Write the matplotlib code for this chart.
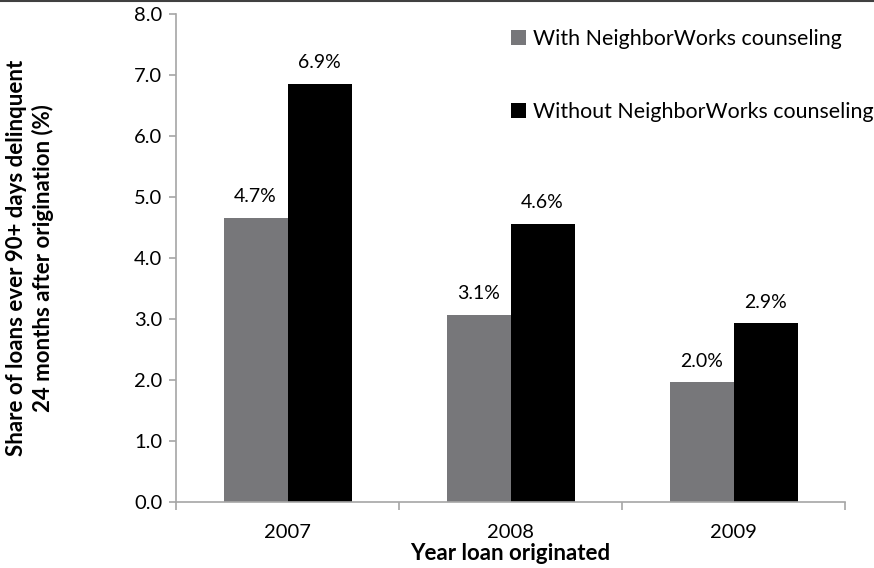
import matplotlib.pyplot as plt
import numpy as np

# data
years = ['2007', '2008', '2009']
with_counseling = [4.66, 3.07, 1.96]
without_counseling = [6.86, 4.56, 2.93]
with_labels = ['4.7%', '3.1%', '2.0%']
without_labels = ['6.9%', '4.6%', '2.9%']
y_ticks = [0, 1, 2, 3, 4, 5, 6, 7, 8]

plt.rcParams['font.family'] = ['Lato', 'DejaVu Sans']

fig = plt.figure(figsize=(8.74, 5.68), dpi=100)
ax = fig.add_axes([0.2014, 0.1162, 0.967 - 0.2014, 0.9754 - 0.1162])

x = np.arange(len(years))
w = 0.287
grey = '#77777a'
axis_col = '#a6a6a6'

ax.bar(x - w / 2, with_counseling, w, color=grey, label='With NeighborWorks counseling')
ax.bar(x + w / 2, without_counseling, w, color='black', label='Without NeighborWorks counseling')

for xi, v, s in zip(x - w / 2, with_counseling, with_labels):
    ax.annotate(s, (xi, v), xytext=(0, 9), textcoords='offset points',
                ha='center', va='bottom', fontsize=14)
for xi, v, s in zip(x + w / 2, without_counseling, without_labels):
    ax.annotate(s, (xi, v), xytext=(0, 9), textcoords='offset points',
                ha='center', va='bottom', fontsize=14)

ax.set_xlim(-0.5, 2.5)
ax.set_ylim(0, 8)
ax.set_yticks(y_ticks)
ax.set_yticklabels(['%.1f' % t for t in y_ticks])
ax.set_xticks(x)
ax.set_xticklabels(years)
ax.set_xticks([-0.5, 0.5, 1.5, 2.5], minor=True)
ax.tick_params(axis='x', which='major', length=0, pad=16, labelsize=14.5)
ax.tick_params(axis='x', which='minor', length=6, color=axis_col, width=1.2)
ax.tick_params(axis='y', length=5, color=axis_col, width=1.2, labelsize=14.5, pad=5)

for s in ['top', 'right']:
    ax.spines[s].set_visible(False)
for s in ['left', 'bottom']:
    ax.spines[s].set_color(axis_col)
    ax.spines[s].set_linewidth(1.2)

ax.set_xlabel('Year loan originated', fontsize=16, fontweight='bold', labelpad=1)
ax.set_ylabel('Share of loans ever 90+ days delinquent\n24 months after origination (%)',
              fontsize=16, fontweight='bold', linespacing=1.25)
ax.yaxis.set_label_coords(-0.183, 0.5)

ax.legend(loc='upper left', bbox_to_anchor=(0.478, 1.0), frameon=False, fontsize=15.4,
          handlelength=0.7, handleheight=0.7, handletextpad=0.35, labelspacing=2.5,
          borderaxespad=0.3)

# thin dark rule across the top edge
fig.add_artist(plt.Line2D([0, 1], [0.999, 0.999], color='#404040', lw=1.5,
                          transform=fig.transFigure))

fig.savefig('out.png', dpi=100)
